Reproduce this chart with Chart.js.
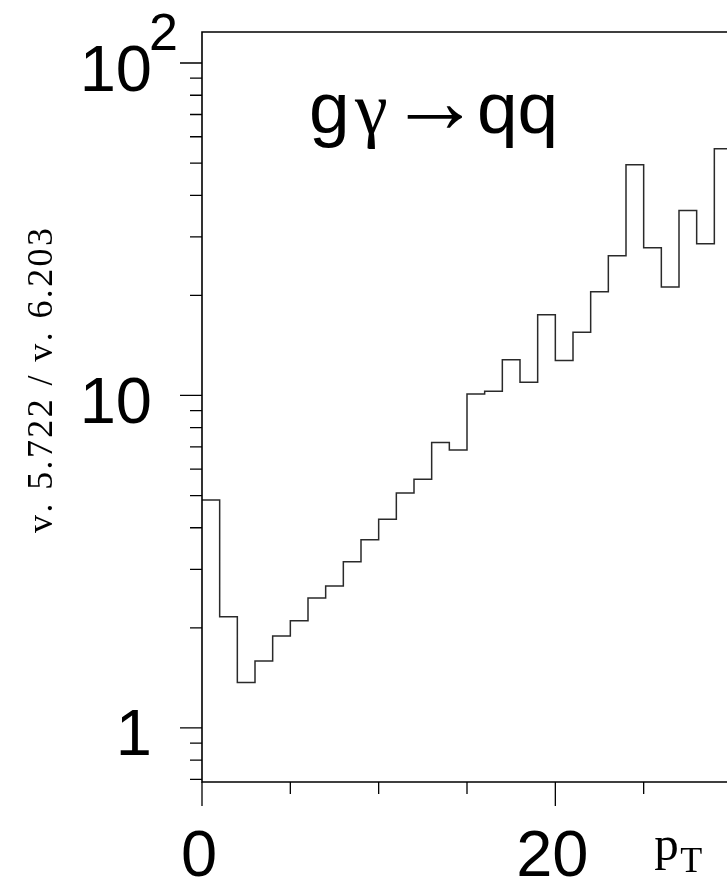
<!DOCTYPE html>
<html>
<head>
<meta charset="utf-8">
<script src="https://cdn.jsdelivr.net/npm/chart.js@4/dist/chart.umd.min.js"></script>
<style>
  html, body { margin: 0; padding: 0; background: #fff; overflow: hidden; }
  canvas { display: block; }
</style>
</head>
<body>
<canvas id="ratioChart" width="760" height="881"></canvas>
<script>
// lower edge of each pT bin (width 1)
var binLow = [0, 1, 2, 3, 4, 5, 6, 7, 8, 9, 10, 11, 12, 13, 14,
              15, 16, 17, 18, 19, 20, 21, 22, 23, 24, 25, 26, 27, 28, 29];
var binHigh = 30;
// v. 5.722 / v. 6.203 ratio per bin
var ratio = [4.85, 2.16, 1.37, 1.59, 1.89, 2.10, 2.46, 2.67, 3.16, 3.68,
             4.24, 5.09, 5.60, 7.22, 6.85, 10.1, 10.3, 12.8, 10.95, 17.5,
             12.75, 15.5, 20.5, 26.3, 49.4, 27.8, 21.2, 36.0, 28.6, 55.2];

var yTickValues = [1, 10, 100];
var yTickLabels = ['1', '10', '10^2'];
var xTickValues = [0, 20];
var xTickLabels = ['0', '20'];
var xMinorStep = 5;

var yTitle = 'v. 5.722 / v. 6.203';
var processTitle = ['g', '\u03b3', '\u2192', 'qq'];

var SANS = '"Liberation Sans", Arial, Helvetica, sans-serif';
var SERIF = '"Liberation Serif", "Times New Roman", serif';

// histogram as stepped line through the bin edges
var points = binLow.map(function (x, i) { return { x: x, y: ratio[i] }; });
points.push({ x: binHigh, y: ratio[ratio.length - 1] });

// draws text char by char, stretched to a given total length
function spacedText(ctx, str, x, y, total) {
  var w = 0, i;
  for (i = 0; i < str.length; i++) w += ctx.measureText(str[i]).width;
  var gap = (total - w) / (str.length - 1);
  var cx = x - total / 2;
  for (i = 0; i < str.length; i++) {
    ctx.fillText(str[i], cx, y);
    cx += ctx.measureText(str[i]).width + gap;
  }
}

var paperAxes = {
  id: 'paperAxes',
  afterDatasetsDraw: function (chart) {
    var ctx = chart.ctx, a = chart.chartArea;
    var xs = chart.scales.x, ys = chart.scales.y;
    ctx.save();
    ctx.strokeStyle = '#000';
    ctx.fillStyle = '#000';

    // frame
    ctx.lineWidth = 1.6;
    ctx.beginPath();
    ctx.moveTo(a.right, a.top);
    ctx.lineTo(a.left, a.top);
    ctx.lineTo(a.left, a.bottom);
    ctx.lineTo(a.right, a.bottom);
    ctx.stroke();

    // log ticks on the left
    ctx.lineWidth = 1.3;
    ctx.beginPath();
    for (var e = -1; e <= 2; e++) {
      for (var k = 1; k <= 9; k++) {
        var v = k * Math.pow(10, e);
        if (v < ys.min || v > ys.max) continue;
        var py = ys.getPixelForValue(v);
        var len = k === 1 ? 22 : 12;
        ctx.moveTo(a.left - len, py);
        ctx.lineTo(a.left, py);
      }
    }
    // ticks below the x axis
    for (var t = xs.min; t <= xs.max; t += xMinorStep) {
      var px = xs.getPixelForValue(t);
      var l = xTickValues.indexOf(t) >= 0 ? 24 : 12;
      ctx.moveTo(px, a.bottom);
      ctx.lineTo(px, a.bottom + l);
    }
    ctx.stroke();

    // y labels
    ctx.textBaseline = 'alphabetic';
    yTickValues.forEach(function (v, i) {
      var py = ys.getPixelForValue(v);
      var parts = yTickLabels[i].split('^');
      ctx.font = '65px ' + SANS;
      ctx.textAlign = 'right';
      ctx.fillText(parts[0], a.left - 50, py + 27.5);
      if (parts[1]) {
        ctx.font = '52px ' + SANS;
        ctx.textAlign = 'left';
        ctx.fillText(parts[1], a.left - 53, py - 13);
      }
    });

    // x labels
    ctx.font = '65px ' + SANS;
    ctx.textAlign = 'center';
    xTickValues.forEach(function (v, i) {
      ctx.fillText(xTickLabels[i], xs.getPixelForValue(v) - 3, a.bottom + 94);
    });

    // p_T axis title
    var p20 = xs.getPixelForValue(20);
    ctx.textAlign = 'left';
    ctx.font = '49px ' + SERIF;
    ctx.fillText('p', p20 + 99, a.bottom + 78);
    ctx.font = '36px ' + SERIF;
    ctx.fillText('T', p20 + 125, a.bottom + 90);

    // process label
    var base = a.top + 101;
    ctx.font = '73px ' + SANS;
    ctx.fillText(processTitle[0], a.left + 107, base);
    ctx.font = '74px ' + SERIF;
    ctx.fillText(processTitle[1], a.left + 153, base);
    // arrow scaled by its ink width
    ctx.font = '100px ' + SERIF;
    var m = ctx.measureText(processTitle[2]);
    var ink = m.actualBoundingBoxLeft + m.actualBoundingBoxRight;
    var fs = 100 * 55 / ink;
    ctx.font = fs + 'px ' + SERIF;
    m = ctx.measureText(processTitle[2]);
    var mid = (m.actualBoundingBoxAscent - m.actualBoundingBoxDescent) / 2;
    ctx.fillText(processTitle[2], a.left + 205 + m.actualBoundingBoxLeft, a.top + 85 + mid);
    ctx.font = '73px ' + SANS;
    ctx.fillText(processTitle[3], a.left + 275, base);

    // rotated ratio title
    ctx.translate(52, 380.5);
    ctx.rotate(-Math.PI / 2);
    ctx.font = '36px ' + SERIF;
    ctx.textAlign = 'left';
    spacedText(ctx, yTitle, 0, 0, 305);
    ctx.restore();
  }
};

new Chart(document.getElementById('ratioChart'), {
  type: 'line',
  data: {
    datasets: [{
      data: points,
      stepped: true,
      borderColor: '#2a2a2a',
      borderWidth: 1.5,
      pointRadius: 0,
      fill: false
    }]
  },
  options: {
    responsive: false,
    animation: false,
    layout: { padding: { left: 202, top: 32, right: 28, bottom: 99 } },
    plugins: { legend: { display: false }, tooltip: { enabled: false } },
    scales: {
      x: { type: 'linear', min: 0, max: binHigh, display: false },
      y: { type: 'logarithmic', min: 0.6875, max: 123.96, display: false }
    }
  },
  plugins: [paperAxes]
});
</script>
</body>
</html>
